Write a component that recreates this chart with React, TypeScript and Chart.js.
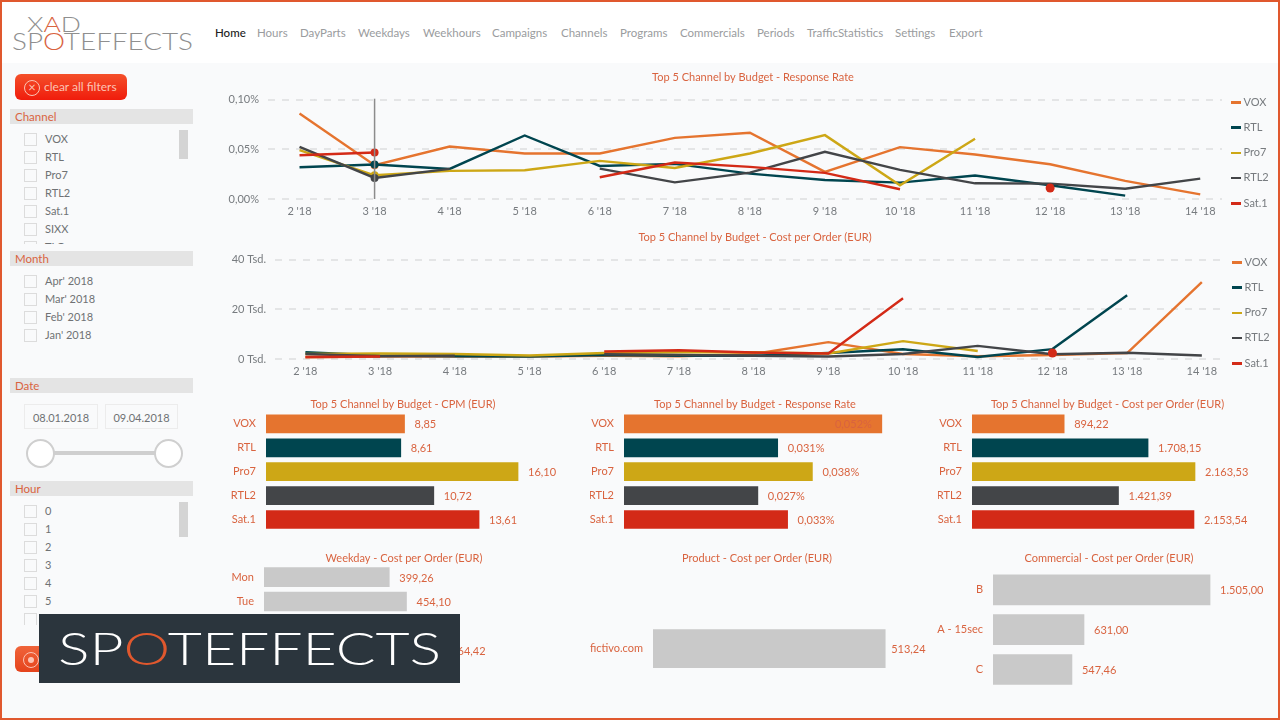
import { Chart, registerables } from 'chart.js'
import { useEffect, useRef } from 'react'

Chart.register(...registerables)
Chart.defaults.font.family = 'Lato'

const ORANGE_TEXT = '#d9633f'
const GREY_TEXT = '#777b7f'
const BAR_GREY = '#c9c9c9'

const weeks = [2, 3, 4, 5, 6, 7, 8, 9, 10, 11, 12, 13, 14]
const channels = ['VOX', 'RTL', 'Pro7', 'RTL2', 'Sat.1']
const channelColors = ['#e5742f', '#00454f', '#cda716', '#434548', '#d32a17']

// Response Rate per week in %
const rateVox = [0.0862, 0.034, 0.0529, 0.0458, 0.0458, 0.0616, 0.0667, 0.0273, 0.0522, 0.0448, 0.035, 0.0182, 0.0047]
const rateRtl = [0.032, 0.0347, 0.0303, 0.064, 0.0333, 0.0354, 0.0256, 0.0192, 0.0165, 0.0236, 0.0138, 0.0034, null]
const ratePro7 = [0.0492, 0.0239, 0.0283, 0.029, 0.0384, 0.0313, 0.0458, 0.0643, 0.0138, 0.0606, null, null, null]
const rateRtl2 = [0.0525, 0.0212, 0.0303, null, 0.0306, 0.0168, 0.0266, 0.0475, 0.0293, 0.0158, 0.0155, 0.0104, 0.0205]
const rateSat1 = [0.0441, 0.0468, null, null, 0.0219, 0.0367, 0.0323, 0.0263, 0.0098, null, 0.0111, null, null]

// Cost per Order per week in EUR
const cpoVox = [700, 1000, 1000, 1000, 1300, 1100, 2000, 6800, 2000, 1100, 1600, 2400, 31000]
const cpoRtl = [2700, 1400, 1100, 1000, 1600, 1300, 1300, 2400, 3900, 800, 4000, 25700, null]
const cpoPro7 = [2000, 2200, 2000, 1400, 2400, 2700, 2700, 2200, 7200, 3200, null, null, null]
const cpoRtl2 = [2000, 1100, 1300, null, 1900, 1600, 1300, 1000, 2000, 5300, 1900, 2500, 1400]
const cpoSat1 = [800, 1000, null, null, 3000, 3500, 2600, 2200, 24500, null, 2400, null, null]

const cpmValues = [8.85, 8.61, 16.1, 10.72, 13.61]
const responseValues = [0.052, 0.031, 0.038, 0.027, 0.033]
const cpoValues = [894.22, 1708.15, 2163.53, 1421.39, 2153.54]

const weekdays = ['Mon', 'Tue', 'Wed', 'Thu']
const weekdayValues = [399.26, 454.1, null, 564.42] // Wed is hidden behind the banner
const products = ['fictivo.com']
const productValues = [513.24]
const commercials = ['B', 'A - 15sec', 'C']
const commercialValues = [1505, 631, 547.46]

const navItems = ['Home', 'Hours', 'DayParts', 'Weekdays', 'Weekhours', 'Campaigns', 'Channels', 'Programs', 'Commercials', 'Periods', 'TrafficStatistics', 'Settings', 'Export']
const navLeft = [215, 257, 300, 358, 423, 492, 561, 620, 680, 757, 807, 895, 949]
const channelFilter = ['VOX', 'RTL', 'Pro7', 'RTL2', 'Sat.1', 'SIXX', 'TLC']
const monthFilter = ["Apr' 2018", "Mar' 2018", "Feb' 2018", "Jan' 2018"]
const hourFilter = ['0', '1', '2', '3', '4', '5', '6']

const eur = (v: number) =>
	new Intl.NumberFormat('de-DE', { minimumFractionDigits: 2, maximumFractionDigits: 2 }).format(v)
const pct3 = (v: number) => v.toFixed(3).replace('.', ',') + '%'

// Wert neben dem Balken, passt er nicht mehr in den Canvas, dann in den Balken
const valueLabels = (format: (v: number) => string, gap: number) => ({
	id: 'valueLabels',
	afterDatasetsDraw(chart: any) {
		const ctx = chart.ctx
		const meta = chart.getDatasetMeta(0)
		ctx.save()
		ctx.font = '11px Lato'
		ctx.fillStyle = ORANGE_TEXT
		ctx.textBaseline = 'middle'
		meta.data.forEach((bar: any, i: number) => {
			const v = chart.data.datasets[0].data[i]
			if (v == null) return
			const text = format(v)
			const w = ctx.measureText(text).width
			const inside = bar.x + gap + w > chart.width
			ctx.fillText(text, inside ? bar.x - gap - w : bar.x + gap, bar.y + 1)
		})
		ctx.restore()
	}
})

const hoverLine = (week: number) => ({
	id: 'hoverLine',
	afterDatasetsDraw(chart: any) {
		const { ctx, chartArea } = chart
		const x = chart.scales.x.getPixelForValue(week)
		ctx.save()
		ctx.strokeStyle = '#8c8c8c'
		ctx.lineWidth = 1.5
		ctx.beginPath()
		ctx.moveTo(x, chartArea.top - 1)
		ctx.lineTo(x, chartArea.bottom)
		ctx.stroke()
		ctx.restore()
	}
})

type LineProps = {
	title: string
	series: (number | null)[][]
	left: number
	top: number
	width: number
	yWidth: number
	yMax: number
	yStep: number
	yLabel: (v: number) => string
	xMin: number
	xMax: number
	legendWidth: number
	legendMarkerX: number
	hoverWeek?: number
}

function LinePanel({ title, series, left, top, width, yWidth, yMax, yStep, yLabel, xMin, xMax, legendWidth, legendMarkerX, hoverWeek }: LineProps) {
	const canvasRef = useRef<HTMLCanvasElement | null>(null)

	useEffect(() => {
		if (!canvasRef.current) return
		const chart = new Chart(canvasRef.current, {
			type: 'line',
			data: {
				datasets: series.map((values, s) => ({
					label: channels[s],
					data: values.map((y, i) => ({ x: weeks[i], y })),
					borderColor: channelColors[s],
					backgroundColor: channelColors[s],
					borderWidth: 2.4,
					tension: 0,
					order: series.length - s,
					// Einzelpunkte und Hover-Woche bekommen einen Marker
					pointRadius: values.map((v, i) => {
						if (v == null) return 0
						if (weeks[i] === hoverWeek) return 4
						return values[i - 1] == null && values[i + 1] == null ? 4.5 : 0
					}),
					pointBorderWidth: 0
				}))
			},
			options: {
				animation: false,
				responsive: false,
				scales: {
					x: {
						type: 'linear',
						min: xMin,
						max: xMax,
						grid: { display: false, drawTicks: false },
						border: { display: false },
						afterBuildTicks: (scale: any) => {
							scale.ticks = weeks.map((value) => ({ value }))
						},
						afterFit: (scale: any) => {
							scale.height = 23
						},
						ticks: {
							color: GREY_TEXT,
							font: { size: 11 },
							padding: 6,
							maxRotation: 0,
							autoSkip: false,
							callback: (v: any) => `${v} '18`
						}
					},
					y: {
						min: 0,
						max: yMax,
						grid: { color: '#e4e5e6', lineWidth: 2, drawTicks: false },
						border: { display: false, dash: [7, 7] },
						afterFit: (scale: any) => {
							scale.width = yWidth
						},
						ticks: {
							color: GREY_TEXT,
							font: { size: 11 },
							padding: 9,
							stepSize: yStep,
							callback: (v: any) => yLabel(v)
						}
					},
					// leere Achse, hält rechts Platz für die Legende frei
					y2: {
						position: 'right',
						grid: { display: false, drawTicks: false },
						border: { display: false },
						ticks: { display: false },
						afterFit: (scale: any) => {
							scale.width = legendWidth
						}
					}
				},
				plugins: {
					tooltip: { enabled: false },
					legend: { display: false },
					title: {
						display: true,
						text: title,
						color: ORANGE_TEXT,
						font: { size: 11, weight: 'normal' },
						padding: { top: 6.1, bottom: 15.4 }
					}
				}
			},
			plugins: hoverWeek ? [hoverLine(hoverWeek)] : []
		} as any)
		return () => chart.destroy()
	}, [])

	return (
		<>
			<canvas
				ref={canvasRef}
				width={width}
				height={157}
				style={{ position: 'absolute', left, top }}
			/>
			{channels.map((name, i) => (
				<div key={name}>
					<div style={{ ...abs(legendMarkerX, top + 36 + i * 25.25, 10, 2.5), background: channelColors[i] }} />
					<div style={{ position: 'absolute', left: legendMarkerX + 12.5, top: top + 29.5 + i * 25.25, fontSize: 11, lineHeight: '14px', color: GREY_TEXT }}>{name}</div>
				</div>
			))}
		</>
	)
}

type BarProps = {
	title: string
	labels: string[]
	values: (number | null)[]
	colors: string | string[]
	format: (v: number) => string
	left: number
	top: number
	width: number
	height: number
	plotTop: number
	yWidth: number
	thickness: number
	gap?: number
	xMax: number
}

function BarPanel({ title, labels, values, colors, format, left, top, width, height, plotTop, yWidth, thickness, gap = 10, xMax }: BarProps) {
	const canvasRef = useRef<HTMLCanvasElement | null>(null)

	useEffect(() => {
		if (!canvasRef.current) return
		const chart = new Chart(canvasRef.current, {
			type: 'bar',
			data: {
				labels,
				datasets: [{ data: values, backgroundColor: colors, barThickness: thickness }]
			},
			options: {
				indexAxis: 'y',
				animation: false,
				responsive: false,
				scales: {
					x: { display: false, min: 0, max: xMax },
					y: {
						grid: { display: false, drawTicks: false },
						border: { display: false },
						afterFit: (scale: any) => {
							scale.width = yWidth
						},
						ticks: { color: ORANGE_TEXT, font: { size: 11 }, padding: 10, autoSkip: false }
					}
				},
				plugins: {
					legend: { display: false },
					tooltip: { enabled: false },
					title: {
						display: true,
						text: title,
						color: ORANGE_TEXT,
						font: { size: 11, weight: 'normal' },
						padding: { top: 3.4, bottom: plotTop - top - 16.6 }
					}
				}
			},
			plugins: [valueLabels(format, gap)]
		} as any)
		return () => chart.destroy()
	}, [])

	return (
		<canvas
			ref={canvasRef}
			width={width}
			height={height}
			style={{ position: 'absolute', left, top }}
		/>
	)
}

const abs = (left: number, top: number, width: number, height: number) =>
	({ position: 'absolute', left, top, width, height }) as const

function FilterHeader({ text, top }: { text: string; top: number }) {
	return (
		<div style={{ ...abs(10, top, 183, 15), background: '#e4e4e4', color: ORANGE_TEXT, fontSize: 11.5, lineHeight: '15px', paddingLeft: 5, boxSizing: 'border-box' }}>
			{text}
		</div>
	)
}

function FilterList({ items, top, height, scrollH }: { items: string[]; top: number; height: number; scrollH?: number }) {
	return (
		<div style={{ ...abs(10, top, 183, height), overflow: 'hidden' }}>
			{items.map((item, i) => (
				<div key={item}>
					<div style={{ ...abs(14, i * 18 + 3, 13, 13), border: '1px solid #dcdcdc', boxSizing: 'border-box' }} />
					<div style={{ position: 'absolute', left: 35, top: i * 18 + 1, fontSize: 11, lineHeight: '16px', color: '#6f7274' }}>{item}</div>
				</div>
			))}
			{scrollH && <div style={{ ...abs(169, 0, 9, scrollH), background: '#d4d4d4' }} />}
		</div>
	)
}

export default function App() {
	return (
		<div style={{ position: 'fixed', left: 0, top: 0, width: 1280, height: 720, overflow: 'hidden', background: '#f9fafb', fontFamily: 'Lato' }}>
			<div style={{ ...abs(0, 0, 1280, 63), background: '#ffffff' }} />

			<svg style={abs(0, 0, 210, 62)}>
				<text x={27} y={32} fontSize={21} fontWeight={300} fill="#8f8f8f" textLength={54} lengthAdjust="spacingAndGlyphs">
					X<tspan fill="#d9633f">A</tspan>D
				</text>
				<text x={12} y={50} fontSize={23.5} fontWeight={300} fill="#8f8f8f" textLength={181} lengthAdjust="spacingAndGlyphs">
					SP<tspan fill="#d9633f">O</tspan>TEFFECTS
				</text>
			</svg>

			{navItems.map((item, i) => (
				<div key={item} style={{ position: 'absolute', left: navLeft[i], top: 25, fontSize: 11.5, lineHeight: '16px', color: i === 0 ? '#222' : '#9a9c9e', fontWeight: i === 0 ? 500 : 400 }}>
					{item}
				</div>
			))}

			{/* Sidebar */}
			<div style={{ ...abs(15, 74, 112, 26), borderRadius: 6, background: 'linear-gradient(#f4502a, #f01c0c)', color: '#fcc4b4', fontSize: 12, lineHeight: '26px', paddingLeft: 29, boxSizing: 'border-box' }}>
				clear all filters
			</div>
			<div style={{ ...abs(24, 80, 14, 14), borderRadius: '50%', border: '1.5px solid #fcc4b4', color: '#fcc4b4', fontSize: 13, lineHeight: '13px', textAlign: 'center' }}>×</div>

			<FilterHeader text="Channel" top={109} />
			<FilterList items={channelFilter} top={130} height={114} scrollH={29} />
			<FilterHeader text="Month" top={251} />
			<FilterList items={monthFilter} top={272} height={76} />
			<FilterHeader text="Date" top={378} />
			<div style={{ ...abs(24, 404, 74, 25), border: '1px solid #ececec', fontSize: 11, lineHeight: '25px', textAlign: 'center', color: '#6f7274', boxSizing: 'border-box' }}>08.01.2018</div>
			<div style={{ ...abs(105, 404, 73, 25), border: '1px solid #ececec', fontSize: 11, lineHeight: '25px', textAlign: 'center', color: '#6f7274', boxSizing: 'border-box' }}>09.04.2018</div>
			<div style={{ ...abs(50, 451, 110, 4), background: '#cfcfcf' }} />
			<div style={{ ...abs(26, 439, 29, 29), borderRadius: '50%', border: '2.5px solid #cfcfcf', background: '#fff', boxSizing: 'border-box' }} />
			<div style={{ ...abs(154, 439, 29, 29), borderRadius: '50%', border: '2.5px solid #cfcfcf', background: '#fff', boxSizing: 'border-box' }} />
			<FilterHeader text="Hour" top={481} />
			<FilterList items={hourFilter} top={502} height={123} scrollH={35} />
			<div style={{ ...abs(15, 646, 60, 26), borderRadius: 6, background: 'linear-gradient(#f0643a, #e5431c)' }} />
			<div style={{ ...abs(23, 652, 14, 14), borderRadius: '50%', border: '1.5px solid #fcc4b4' }} />
			<div style={{ ...abs(28, 657, 6, 6), borderRadius: '50%', background: '#fcc4b4' }} />

			{/* Charts */}
			<LinePanel
				title="Top 5 Channel by Budget - Response Rate"
				series={[rateVox, rateRtl, ratePro7, rateRtl2, rateSat1]}
				left={228}
				top={65}
				width={1050}
				yWidth={40}
				yMax={0.1}
				yStep={0.05}
				yLabel={(v) => v.toFixed(2).replace('.', ',') + '%'}
				xMin={1.58}
				xMax={14.29}
				legendWidth={56}
				legendMarkerX={1231}
				hoverWeek={3}
			/>
			<LinePanel
				title="Top 5 Channel by Budget - Cost per Order (EUR)"
				series={[cpoVox, cpoRtl, cpoPro7, cpoRtl2, cpoSat1]}
				left={230}
				top={225}
				width={1050}
				yWidth={45}
				yMax={40000}
				yStep={20000}
				yLabel={(v) => `${v / 1000} Tsd.`}
				xMin={1.593}
				xMax={14.31}
				legendWidth={55}
				legendMarkerX={1232}
			/>

			<BarPanel title="Top 5 Channel by Budget - CPM (EUR)" labels={channels} values={cpmValues} colors={channelColors} format={eur} left={228} top={394} width={350} height={154} plotTop={412} yWidth={38} thickness={18} xMax={19.93} />
			<BarPanel title="Top 5 Channel by Budget - Response Rate" labels={channels} values={responseValues} colors={channelColors} format={pct3} left={590} top={394} width={330} height={154} plotTop={412} yWidth={34} thickness={18} xMax={0.0597} />
			<BarPanel title="Top 5 Channel by Budget - Cost per Order (EUR)" labels={channels} values={cpoValues} colors={channelColors} format={eur} left={938} top={394} width={339} height={154} plotTop={412} yWidth={34} thickness={18} xMax={2959} />

			<BarPanel title="Weekday - Cost per Order (EUR)" labels={weekdays} values={weekdayValues} colors={BAR_GREY} format={eur} left={229} top={548} width={350} height={131} plotTop={565} yWidth={35} thickness={19} xMax={1003.8} />
			<BarPanel title="Product - Cost per Order (EUR)" labels={products} values={productValues} colors={BAR_GREY} format={eur} left={585} top={548} width={344} height={156} plotTop={610} yWidth={68} thickness={38} gap={6} xMax={610} />
			<BarPanel title="Commercial - Cost per Order (EUR)" labels={commercials} values={commercialValues} colors={BAR_GREY} format={eur} left={937} top={548} width={344} height={158} plotTop={570} yWidth={56} thickness={30} xMax={1997} />

			{/* Banner */}
			<div style={{ ...abs(39, 614, 421, 69), background: '#2b353d' }} />
			<svg style={abs(39, 614, 421, 69)}>
				<text x={19} y={51} fontSize={46} fontWeight={300} fill="#ffffff" textLength={383} lengthAdjust="spacingAndGlyphs">
					SP<tspan fill="#e0582e">O</tspan>TEFFECTS
				</text>
			</svg>

			{/* Rahmen */}
			<div style={{ ...abs(0, 0, 1280, 720), border: '2px solid #e0582e', boxSizing: 'border-box' }} />
		</div>
	)
}
